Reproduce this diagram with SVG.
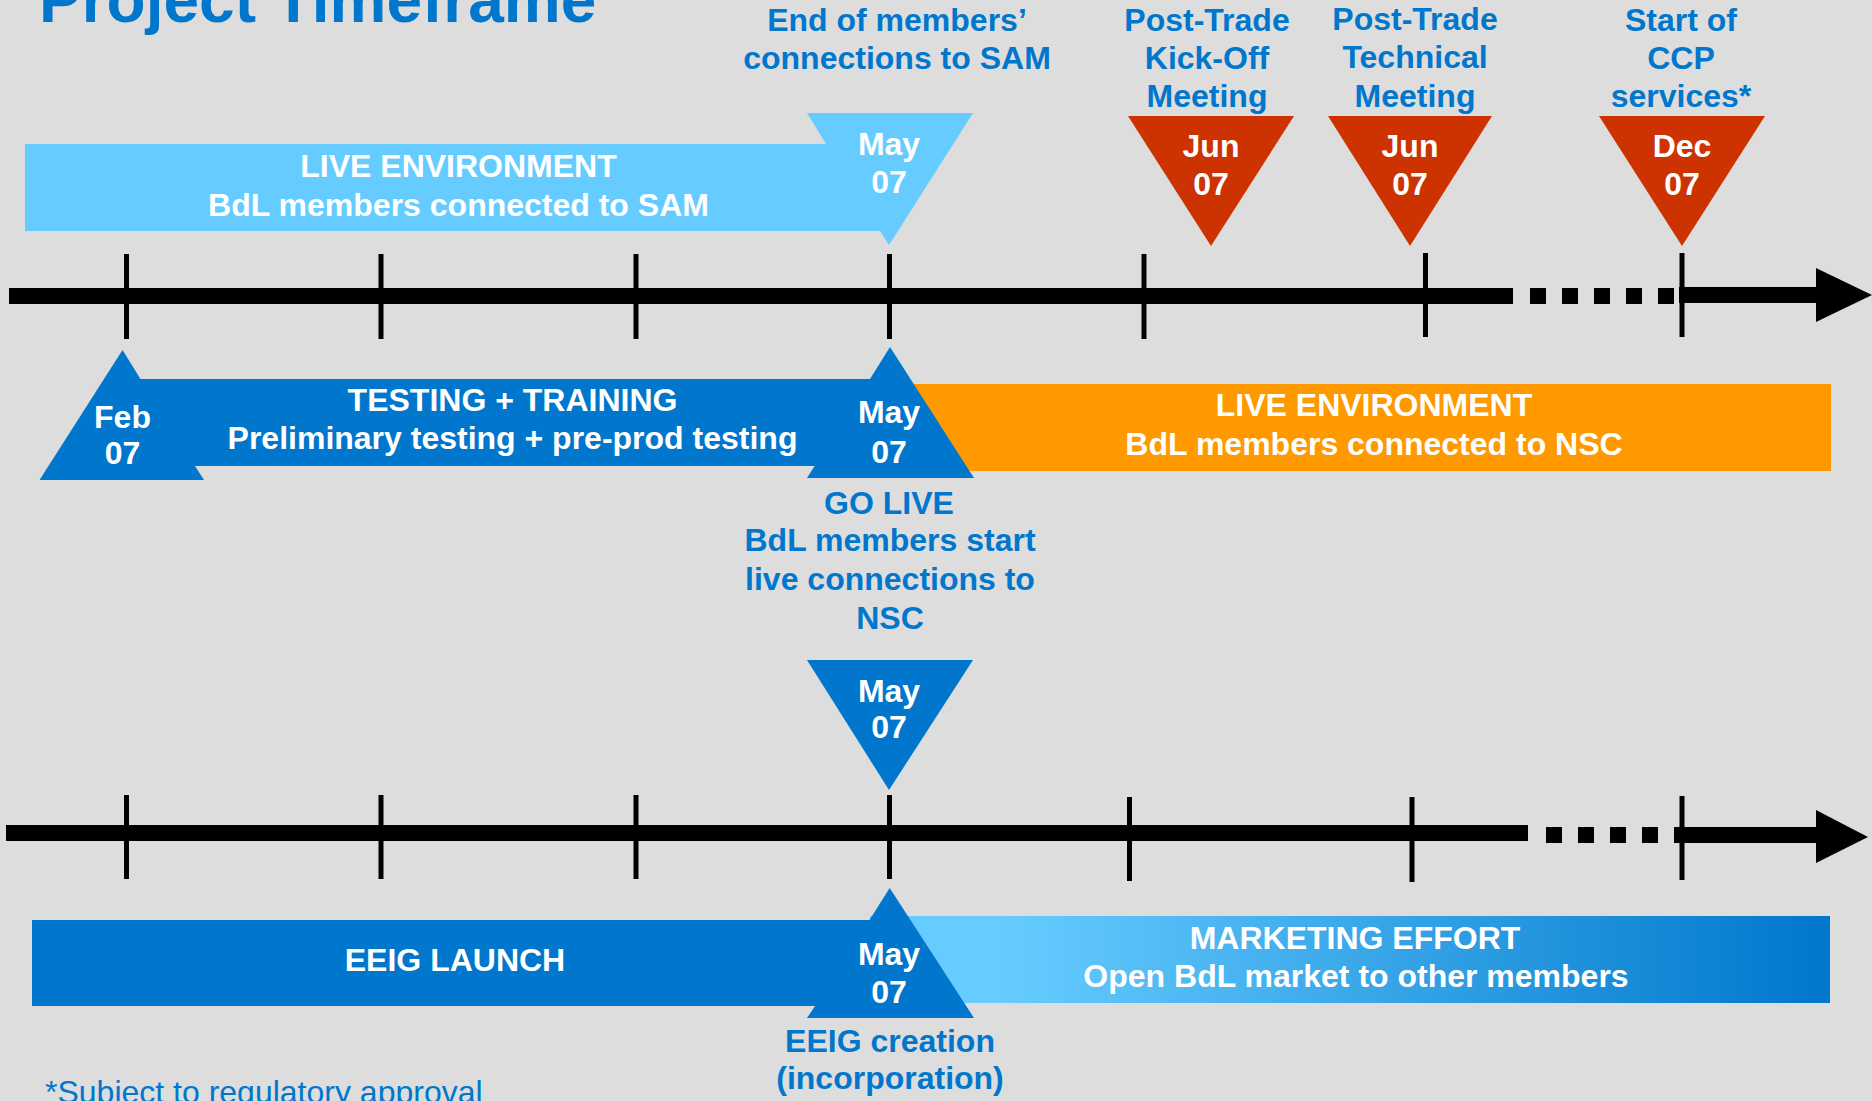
<svg xmlns="http://www.w3.org/2000/svg" width="1872" height="1101" viewBox="0 0 1872 1101">
<defs>
<linearGradient id="mkt" gradientUnits="userSpaceOnUse" x1="870" y1="0" x2="1830" y2="0">
<stop offset="0" stop-color="#66CCFF"/>
<stop offset="0.14" stop-color="#66CCFF"/>
<stop offset="1" stop-color="#0077CC"/>
</linearGradient>
</defs>
<style>
text{font-family:"Liberation Sans",Arial,sans-serif;font-weight:bold;font-size:32px;text-anchor:middle}
.w{fill:#FFFFFF}
.b{fill:#0077CC}
.tick{stroke:#000000;stroke-width:5}
.bar{fill:#000000}
.red{fill:#CC3300}
.dark{fill:#0077CC}
.light{fill:#66CCFF}
</style>
<rect width="1872" height="1101" fill="#DDDDDD"/>

<g id="title">
<text x="39" y="22" class="b" style="font-size:64px;text-anchor:start">Project Timeframe</text>
</g>

<g id="connectors">
<g id="timeline-top">
<rect class="bar" x="9" y="288" width="1504" height="16"/>
<rect class="bar" x="1530" y="288" width="16" height="16"/>
<rect class="bar" x="1562" y="288" width="16" height="16"/>
<rect class="bar" x="1594" y="288" width="16" height="16"/>
<rect class="bar" x="1626" y="288" width="16" height="16"/>
<rect class="bar" x="1658" y="288" width="16" height="16"/>
<rect class="bar" x="1679" y="287" width="138" height="16"/>
<polygon class="bar" points="1816,268 1872,295 1816,322"/>
<line class="tick" x1="126.5" y1="254" x2="126.5" y2="339"/>
<line class="tick" x1="381" y1="254" x2="381" y2="339"/>
<line class="tick" x1="636" y1="254" x2="636" y2="339"/>
<line class="tick" x1="889.5" y1="254" x2="889.5" y2="339"/>
<line class="tick" x1="1144" y1="254" x2="1144" y2="339"/>
<line class="tick" x1="1425.5" y1="253" x2="1425.5" y2="337"/>
<line class="tick" x1="1682" y1="253" x2="1682" y2="337"/>
</g>
<g id="timeline-bottom">
<rect class="bar" x="6" y="825" width="1522" height="16"/>
<rect class="bar" x="1546" y="827" width="16" height="16"/>
<rect class="bar" x="1578" y="827" width="16" height="16"/>
<rect class="bar" x="1610" y="827" width="16" height="16"/>
<rect class="bar" x="1642" y="827" width="16" height="16"/>
<rect class="bar" x="1674" y="827" width="143" height="16"/>
<polygon class="bar" points="1816,810 1868,837 1816,863"/>
<line class="tick" x1="126.5" y1="795" x2="126.5" y2="879"/>
<line class="tick" x1="381" y1="795" x2="381" y2="879"/>
<line class="tick" x1="636" y1="795" x2="636" y2="879"/>
<line class="tick" x1="889.5" y1="795" x2="889.5" y2="879"/>
<line class="tick" x1="1129.5" y1="797" x2="1129.5" y2="881"/>
<line class="tick" x1="1412" y1="797" x2="1412" y2="882"/>
<line class="tick" x1="1682" y1="796" x2="1682" y2="880"/>
</g>
</g>

<g id="live-sam">
<polygon class="light" points="25,144 826,144 807,113 973,113 889,245 880,231 25,231"/>
<text class="w" x="458.5" y="177">LIVE ENVIRONMENT</text>
<text class="w" x="458.5" y="216">BdL members connected to SAM</text>
<text class="w" x="889" y="155">May</text>
<text class="w" x="889" y="193">07</text>
</g>
<g id="label-end-sam">
<text class="b" x="897" y="31">End of members’</text>
<text class="b" x="897" y="69">connections to SAM</text>
</g>

<g id="ms-kickoff">
<polygon class="red" points="1128,116 1294,116 1211,246"/>
<text class="w" x="1211" y="157">Jun</text>
<text class="w" x="1211" y="195">07</text>
<text class="b" x="1207" y="31">Post-Trade</text>
<text class="b" x="1207" y="69">Kick-Off</text>
<text class="b" x="1207" y="107">Meeting</text>
</g>
<g id="ms-technical">
<polygon class="red" points="1328,116 1492,116 1410,246"/>
<text class="w" x="1410" y="157">Jun</text>
<text class="w" x="1410" y="195">07</text>
<text class="b" x="1415" y="30">Post-Trade</text>
<text class="b" x="1415" y="68">Technical</text>
<text class="b" x="1415" y="107">Meeting</text>
</g>
<g id="ms-ccp">
<polygon class="red" points="1599,116 1765,116 1682,246"/>
<text class="w" x="1682" y="157">Dec</text>
<text class="w" x="1682" y="195">07</text>
<text class="b" x="1681" y="31">Start of</text>
<text class="b" x="1681" y="69">CCP</text>
<text class="b" x="1681" y="107">services*</text>
</g>

<g id="live-nsc">
<rect fill="#FF9900" x="870" y="384" width="961" height="87"/>
<text class="w" x="1374" y="416">LIVE ENVIRONMENT</text>
<text class="w" x="1374" y="455">BdL members connected to NSC</text>
</g>

<g id="testing">
<polygon class="dark" points="39.5,480 122.5,350 140.5,379 870,379 890,347 974,478 807,478 814.6,466 195,466 204,480"/>
<text class="w" x="512.5" y="411">TESTING + TRAINING</text>
<text class="w" x="512.5" y="449">Preliminary testing + pre-prod testing</text>
<text class="w" x="122.5" y="428">Feb</text>
<text class="w" x="122.5" y="464">07</text>
<text class="w" x="889" y="423">May</text>
<text class="w" x="889" y="463">07</text>
</g>

<g id="label-go-live">
<text class="b" x="889" y="514">GO LIVE</text>
<text class="b" x="890" y="551">BdL members start</text>
<text class="b" x="890" y="590">live connections to</text>
<text class="b" x="890" y="629">NSC</text>
</g>

<g id="ms-may-bottom">
<polygon class="dark" points="807,660 973,660 889,790"/>
<text class="w" x="889" y="702">May</text>
<text class="w" x="889" y="738">07</text>
</g>

<g id="marketing">
<rect fill="url(#mkt)" x="870" y="916" width="960" height="87"/>
<text class="w" x="1355" y="949">MARKETING EFFORT</text>
<text class="w" x="1356" y="987">Open BdL market to other members</text>
</g>

<g id="eeig-launch">
<polygon class="dark" points="32,920 869.5,920 889.7,888 974,1018 807,1018 815,1006 32,1006"/>
<text class="w" x="455" y="971">EEIG LAUNCH</text>
<text class="w" x="889" y="965">May</text>
<text class="w" x="889" y="1003">07</text>
</g>

<g id="label-eeig-creation">
<text class="b" x="890" y="1052">EEIG creation</text>
<text class="b" x="890" y="1089">(incorporation)</text>
</g>

<g id="footnote">
<text class="b" x="45" y="1103" style="font-weight:normal;text-anchor:start">*Subject to regulatory approval</text>
</g>
</svg>
